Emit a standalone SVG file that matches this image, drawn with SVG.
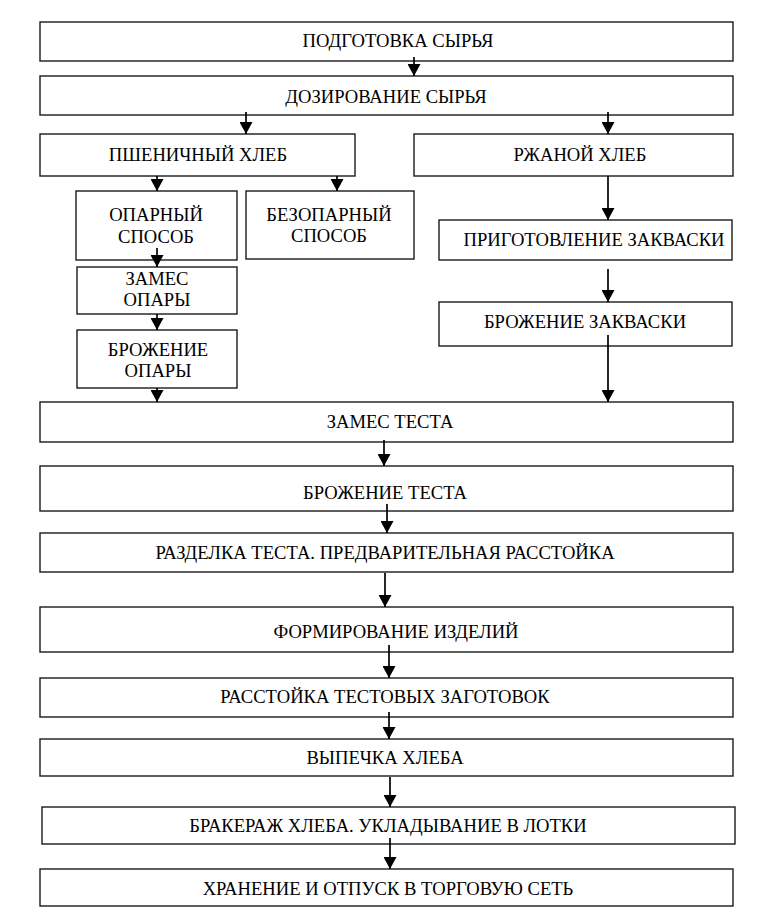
<svg xmlns="http://www.w3.org/2000/svg" width="768" height="924" viewBox="0 0 768 924">
<style>
.b{fill:#fff;stroke:#1a1a1a;stroke-width:1.4}
.t{font-family:"Liberation Serif","Times New Roman",serif;font-size:18.6px;fill:#000;text-anchor:middle}
.c{stroke:#000;stroke-width:1.7;fill:none;marker-end:url(#ah)}
</style>
<defs>
<marker id="ah" markerUnits="userSpaceOnUse" markerWidth="12" markerHeight="13" refX="12" refY="6.5" orient="auto">
<path d="M0,0 L12,6.5 L0,13 Z" fill="#000"/>
</marker>
</defs>
<rect width="768" height="924" fill="#fff"/>
<g id="n1"><rect class="b" x="40" y="22" width="693" height="39"/><text class="t" x="398" y="47">ПОДГОТОВКА СЫРЬЯ</text></g>
<g id="n2"><rect class="b" x="40" y="76" width="693" height="39"/><text class="t" x="386" y="103">ДОЗИРОВАНИЕ СЫРЬЯ</text></g>
<g id="n3"><rect class="b" x="40" y="134" width="315" height="42"/><text class="t" x="198" y="161">ПШЕНИЧНЫЙ ХЛЕБ</text></g>
<g id="n4"><rect class="b" x="414" y="134" width="319" height="42"/><text class="t" x="580" y="161">РЖАНОЙ ХЛЕБ</text></g>
<g id="n5"><rect class="b" x="76" y="191" width="161" height="69"/><text class="t" x="156" y="221">ОПАРНЫЙ</text><text class="t" x="156" y="243">СПОСОБ</text></g>
<g id="n6"><rect class="b" x="246" y="191" width="168" height="68"/><text class="t" x="329" y="221">БЕЗОПАРНЫЙ</text><text class="t" x="329" y="242">СПОСОБ</text></g>
<g id="n7"><rect class="b" x="77" y="267" width="160" height="47"/><text class="t" x="157" y="285">ЗАМЕС</text><text class="t" x="157" y="306">ОПАРЫ</text></g>
<g id="n8"><rect class="b" x="77" y="330" width="160" height="58"/><text class="t" x="158" y="356">БРОЖЕНИЕ</text><text class="t" x="158" y="377">ОПАРЫ</text></g>
<g id="n9"><rect class="b" x="439" y="220" width="293" height="40"/><text class="t" x="594" y="246">ПРИГОТОВЛЕНИЕ ЗАКВАСКИ</text></g>
<g id="n10"><rect class="b" x="439" y="302" width="293" height="44"/><text class="t" x="585" y="328">БРОЖЕНИЕ ЗАКВАСКИ</text></g>
<g id="n11"><rect class="b" x="40" y="402" width="693" height="40"/><text class="t" x="390" y="428">ЗАМЕС ТЕСТА</text></g>
<g id="n12"><rect class="b" x="40" y="466" width="693" height="45"/><text class="t" x="385" y="499">БРОЖЕНИЕ ТЕСТА</text></g>
<g id="n13"><rect class="b" x="40" y="533" width="693" height="39"/><text class="t" x="385" y="559">РАЗДЕЛКА ТЕСТА. ПРЕДВАРИТЕЛЬНАЯ РАССТОЙКА</text></g>
<g id="n14"><rect class="b" x="40" y="607" width="693" height="45"/><text class="t" x="396" y="638">ФОРМИРОВАНИЕ ИЗДЕЛИЙ</text></g>
<g id="n15"><rect class="b" x="40" y="678" width="693" height="39"/><text class="t" x="385" y="703">РАССТОЙКА ТЕСТОВЫХ ЗАГОТОВОК</text></g>
<g id="n16"><rect class="b" x="40" y="739" width="693" height="37"/><text class="t" x="385" y="764">ВЫПЕЧКА ХЛЕБА</text></g>
<g id="n17"><rect class="b" x="42" y="807" width="693" height="37"/><text class="t" x="388" y="832">БРАКЕРАЖ ХЛЕБА. УКЛАДЫВАНИЕ В ЛОТКИ</text></g>
<g id="n18"><rect class="b" x="40" y="869" width="693" height="37"/><text class="t" x="388" y="895">ХРАНЕНИЕ И ОТПУСК В ТОРГОВУЮ СЕТЬ</text></g>
<g id="connectors">
<line class="c" x1="414" y1="57" x2="414" y2="76"/>
<line class="c" x1="246" y1="112" x2="246" y2="134"/>
<line class="c" x1="608" y1="112" x2="608" y2="134"/>
<line class="c" x1="157" y1="176" x2="157" y2="191"/>
<line class="c" x1="337" y1="176" x2="337" y2="191"/>
<line class="c" x1="157" y1="248" x2="157" y2="267"/>
<line class="c" x1="157" y1="314" x2="157" y2="330"/>
<line class="c" x1="157" y1="388" x2="157" y2="402"/>
<line class="c" x1="608" y1="176" x2="608" y2="220"/>
<line class="c" x1="608" y1="269" x2="608" y2="302"/>
<line class="c" x1="608" y1="335" x2="608" y2="402"/>
<line class="c" x1="384" y1="440" x2="384" y2="466"/>
<line class="c" x1="387" y1="504" x2="387" y2="533"/>
<line class="c" x1="385" y1="573" x2="385" y2="607"/>
<line class="c" x1="389" y1="645" x2="389" y2="678"/>
<line class="c" x1="389" y1="712" x2="389" y2="739"/>
<line class="c" x1="390" y1="777" x2="390" y2="807"/>
<line class="c" x1="390" y1="838" x2="390" y2="869"/>
</g>
</svg>
